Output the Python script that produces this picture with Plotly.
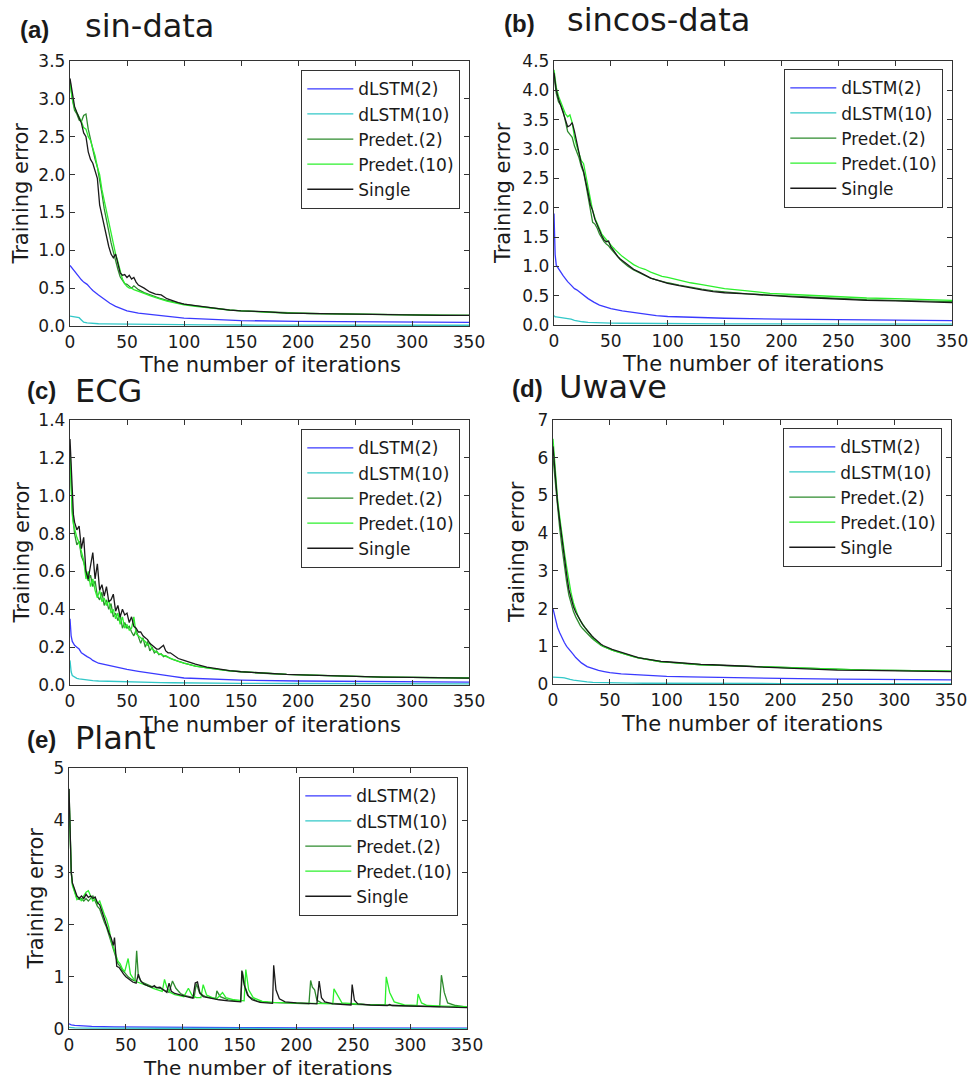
import plotly.graph_objects as go

# ---------------- shared x grids (iterations) ----------------
X_GRID = [0, 2, 4, 6, 8, 10, 12, 14, 16, 18, 20, 22, 24, 26, 28, 30, 32, 34, 36, 38, 40,
          42, 44, 46, 48, 50, 52, 54, 56, 58, 60, 65, 70, 75, 80, 85, 90, 95, 100,
          110, 120, 130, 140, 150, 170, 190, 210, 230, 250, 275, 300, 325, 350]
X_SMOOTH = [0, 1, 2, 4, 6, 8, 10, 12, 15, 18, 20, 25, 30, 35, 40, 45, 50, 60, 70, 80, 90,
            100, 120, 150, 200, 250, 300, 350]
X_ECG = [0, 1, 2, 3, 4, 6, 8, 10, 12, 14, 16, 18, 20, 22, 24, 26, 28, 30, 32, 34, 36, 38,
         40, 42, 44, 46, 48, 50, 52, 54, 56, 58, 60, 62, 64, 66, 68, 70, 72, 74, 76, 78,
         80, 82, 84, 86, 88, 90, 95, 100, 110, 120, 130, 140, 150, 170, 190, 210, 230,
         250, 275, 300, 325, 350]

# ---------------- (a) sin-data ----------------
A_DLSTM2 = [0.8, 0.78, 0.76, 0.72, 0.68, 0.64, 0.61, 0.58, 0.55, 0.5, 0.47, 0.41, 0.35,
            0.3, 0.26, 0.23, 0.2, 0.17, 0.15, 0.135, 0.12, 0.105, 0.09, 0.072, 0.06,
            0.054, 0.05, 0.047]
A_DLSTM10 = [0.13, 0.128, 0.125, 0.12, 0.12, 0.11, 0.08, 0.05, 0.04, 0.035, 0.033, 0.03,
             0.028, 0.027, 0.026, 0.025, 0.024, 0.022, 0.02, 0.019, 0.018, 0.017, 0.015,
             0.013, 0.012, 0.011, 0.01, 0.01]
A_PRED2 = [3.25, 3.0, 2.85, 2.8, 2.72, 2.7, 2.78, 2.8, 2.6, 2.45, 2.3, 2.2, 2.1, 1.95,
           1.75, 1.55, 1.4, 1.2, 1.1, 0.98, 0.85, 0.75, 0.65, 0.6, 0.56, 0.55, 0.52, 0.5,
           0.53, 0.5, 0.48, 0.44, 0.41, 0.38, 0.36, 0.34, 0.32, 0.3, 0.29, 0.265, 0.245,
           0.228, 0.212, 0.2, 0.185, 0.172, 0.165, 0.16, 0.155, 0.15, 0.145, 0.142, 0.14]
A_PRED10 = [3.2, 3.0, 2.88, 2.82, 2.78, 2.7, 2.62, 2.6, 2.5, 2.45, 2.35, 2.25, 2.1, 2.0,
            1.8, 1.65, 1.5, 1.35, 1.2, 1.08, 0.95, 0.85, 0.72, 0.62, 0.56, 0.52, 0.5, 0.5,
            0.48, 0.47, 0.46, 0.43, 0.4, 0.37, 0.35, 0.33, 0.31, 0.3, 0.28, 0.26, 0.24,
            0.225, 0.21, 0.2, 0.185, 0.17, 0.165, 0.16, 0.155, 0.15, 0.145, 0.14, 0.14]
A_SINGLE = [3.27, 3.05, 2.9, 2.82, 2.75, 2.68, 2.55, 2.5, 2.3, 2.2, 2.15, 2.05, 1.95, 1.6,
            1.45, 1.35, 1.2, 1.05, 0.95, 0.9, 0.95, 0.8, 0.7, 0.67, 0.68, 0.64, 0.67, 0.62,
            0.64, 0.58, 0.54, 0.5, 0.45, 0.42, 0.41, 0.36, 0.33, 0.31, 0.29, 0.27, 0.25,
            0.23, 0.21, 0.2, 0.19, 0.17, 0.165, 0.16, 0.155, 0.15, 0.145, 0.14, 0.14]

# ---------------- (b) sincos-data ----------------
B_DLSTM2 = [1.9, 1.2, 1.02, 0.95, 0.9, 0.84, 0.78, 0.74, 0.68, 0.62, 0.6, 0.52, 0.45,
            0.39, 0.34, 0.31, 0.28, 0.24, 0.21, 0.18, 0.16, 0.145, 0.13, 0.115, 0.1,
            0.09, 0.08, 0.075]
B_DLSTM10 = [0.16, 0.14, 0.14, 0.135, 0.13, 0.125, 0.12, 0.11, 0.1, 0.08, 0.07, 0.055,
             0.045, 0.04, 0.038, 0.035, 0.033, 0.03, 0.028, 0.027, 0.025, 0.024, 0.022,
             0.02, 0.018, 0.017, 0.016, 0.015]
B_PRED2 = [4.25, 3.95, 3.8, 3.75, 3.65, 3.5, 3.3, 3.25, 3.2, 3.05, 2.95, 2.85, 2.7, 2.6,
           2.4, 2.2, 2.0, 1.75, 1.72, 1.65, 1.55, 1.48, 1.42, 1.38, 1.35, 1.3, 1.25, 1.2,
           1.16, 1.12, 1.08, 1.0, 0.94, 0.89, 0.84, 0.8, 0.77, 0.74, 0.72, 0.68, 0.64,
           0.61, 0.58, 0.56, 0.53, 0.51, 0.49, 0.47, 0.45, 0.43, 0.42, 0.41, 0.4]
B_PRED10 = [4.35, 4.05, 3.9, 3.8, 3.7, 3.6, 3.55, 3.58, 3.45, 3.2, 3.05, 2.9, 2.8, 2.75,
            2.55, 2.3, 2.1, 1.95, 1.82, 1.72, 1.62, 1.55, 1.5, 1.45, 1.4, 1.36, 1.32,
            1.28, 1.24, 1.2, 1.17, 1.1, 1.03, 0.98, 0.95, 0.9, 0.86, 0.83, 0.81, 0.76,
            0.72, 0.69, 0.66, 0.62, 0.58, 0.54, 0.52, 0.5, 0.48, 0.46, 0.45, 0.44, 0.42]
B_SINGLE = [4.3, 4.0, 3.85, 3.75, 3.62, 3.5, 3.38, 3.4, 3.45, 3.3, 3.1, 2.95, 2.75, 2.62,
            2.45, 2.25, 2.05, 1.95, 1.8, 1.7, 1.6, 1.52, 1.45, 1.42, 1.43, 1.33, 1.28,
            1.22, 1.17, 1.13, 1.1, 1.02, 0.95, 0.9, 0.85, 0.8, 0.77, 0.74, 0.71, 0.67,
            0.63, 0.6, 0.57, 0.55, 0.53, 0.5, 0.48, 0.46, 0.44, 0.42, 0.41, 0.39, 0.38]

# ---------------- (c) ECG ----------------
C_DLSTM2 = [0.35, 0.26, 0.23, 0.21, 0.2, 0.19, 0.17, 0.16, 0.15, 0.14, 0.13, 0.115,
            0.108, 0.1, 0.095, 0.09, 0.082, 0.072, 0.062, 0.054, 0.045, 0.037, 0.031,
            0.026, 0.021, 0.018, 0.016, 0.015]
C_DLSTM10 = [0.13, 0.07, 0.05, 0.04, 0.035, 0.032, 0.03, 0.028, 0.026, 0.024, 0.023,
             0.021, 0.02, 0.019, 0.018, 0.017, 0.016, 0.015, 0.014, 0.013, 0.012, 0.011,
             0.01, 0.009, 0.008, 0.007, 0.006, 0.006]
C_PRED2 = [1.25, 1.05, 0.92, 0.86, 0.8, 0.74, 0.76, 0.68, 0.65, 0.6, 0.55, 0.58, 0.52,
           0.55, 0.47, 0.45, 0.49, 0.42, 0.45, 0.4, 0.43, 0.36, 0.38, 0.34, 0.37, 0.3,
           0.33, 0.3, 0.31, 0.28, 0.26, 0.29, 0.25, 0.22, 0.25, 0.2, 0.23, 0.18, 0.2, 0.17,
           0.18, 0.16, 0.165, 0.15, 0.155, 0.145, 0.14, 0.135, 0.125, 0.115, 0.1, 0.09,
           0.082, 0.075, 0.07, 0.062, 0.056, 0.052, 0.048, 0.045, 0.042, 0.04, 0.038,
           0.037]
C_PRED10 = [1.2, 1.0, 0.9, 0.85, 0.82, 0.78, 0.75, 0.7, 0.66, 0.56, 0.6, 0.52, 0.56, 0.5,
            0.46, 0.5, 0.44, 0.46, 0.42, 0.45, 0.38, 0.4, 0.35, 0.38, 0.32, 0.36, 0.3,
            0.32, 0.29, 0.3, 0.36, 0.27, 0.26, 0.25, 0.24, 0.23, 0.21, 0.22, 0.19, 0.18,
            0.17, 0.165, 0.16, 0.155, 0.15, 0.145, 0.14, 0.135, 0.125, 0.115, 0.1, 0.09,
            0.082, 0.075, 0.07, 0.062, 0.056, 0.052, 0.048, 0.045, 0.042, 0.04, 0.038,
            0.037]
C_SINGLE = [1.3, 1.15, 0.98, 0.9, 0.86, 0.82, 0.84, 0.72, 0.78, 0.6, 0.56, 0.62, 0.7,
            0.56, 0.64, 0.5, 0.53, 0.47, 0.52, 0.44, 0.45, 0.48, 0.39, 0.42, 0.36, 0.4,
            0.37, 0.38, 0.33, 0.36, 0.31, 0.3, 0.28, 0.28, 0.26, 0.25, 0.24, 0.22, 0.21,
            0.2, 0.19, 0.19, 0.2, 0.21, 0.18, 0.17, 0.17, 0.16, 0.14, 0.13, 0.11, 0.095,
            0.085, 0.076, 0.07, 0.062, 0.056, 0.052, 0.048, 0.045, 0.042, 0.04, 0.038,
            0.036]

# ---------------- (d) Uwave ----------------
D_DLSTM2 = [2.0, 1.85, 1.7, 1.5, 1.35, 1.2, 1.1, 1.0, 0.9, 0.78, 0.7, 0.56, 0.46, 0.4,
            0.36, 0.33, 0.3, 0.27, 0.25, 0.23, 0.21, 0.2, 0.19, 0.17, 0.15, 0.13, 0.12,
            0.11]
D_DLSTM10 = [0.18, 0.18, 0.18, 0.17, 0.17, 0.17, 0.16, 0.15, 0.12, 0.1, 0.09, 0.07,
             0.055, 0.045, 0.04, 0.035, 0.03, 0.025, 0.022, 0.02, 0.018, 0.017, 0.015,
             0.013, 0.012, 0.011, 0.01, 0.01]
D_PRED2 = [6.0, 5.3, 4.6, 4.1, 3.6, 3.1, 2.7, 2.35, 2.1, 1.92, 1.78, 1.65, 1.55, 1.47,
           1.4, 1.34, 1.28, 1.22, 1.17, 1.12, 1.07, 1.03, 1.0, 0.97, 0.95, 0.93, 0.9, 0.88,
           0.86, 0.84, 0.82, 0.77, 0.73, 0.69, 0.66, 0.63, 0.61, 0.59, 0.58, 0.55, 0.53,
           0.51, 0.5, 0.49, 0.46, 0.44, 0.42, 0.4, 0.38, 0.37, 0.36, 0.35, 0.34]
D_PRED10 = [6.5, 5.6, 4.9, 4.4, 3.9, 3.5, 3.1, 2.7, 2.4, 2.15, 1.95, 1.8, 1.68, 1.58,
            1.5, 1.42, 1.34, 1.27, 1.2, 1.14, 1.08, 1.04, 1.0, 0.97, 0.95, 0.93, 0.9,
            0.88, 0.86, 0.84, 0.82, 0.77, 0.73, 0.69, 0.66, 0.63, 0.61, 0.59, 0.58, 0.55,
            0.53, 0.51, 0.5, 0.49, 0.46, 0.44, 0.42, 0.4, 0.38, 0.37, 0.36, 0.35, 0.34]
D_SINGLE = [6.3, 5.5, 4.8, 4.3, 3.8, 3.3, 2.9, 2.5, 2.25, 2.05, 1.9, 1.78, 1.68, 1.58,
            1.5, 1.42, 1.35, 1.28, 1.22, 1.16, 1.1, 1.06, 1.02, 0.99, 0.97, 0.95, 0.92,
            0.9, 0.88, 0.85, 0.83, 0.78, 0.74, 0.7, 0.67, 0.64, 0.62, 0.6, 0.59, 0.56,
            0.54, 0.52, 0.51, 0.5, 0.47, 0.44, 0.41, 0.39, 0.37, 0.36, 0.35, 0.34, 0.33]

# ---------------- (e) Plant ----------------
E_DLSTM2_X = [0, 2, 5, 10, 20, 40, 60, 100, 150, 200, 250, 300, 350]
E_DLSTM2 = [0.1, 0.08, 0.07, 0.06, 0.05, 0.04, 0.035, 0.03, 0.025, 0.022, 0.02, 0.018, 0.017]
E_DLSTM10_X = [0, 5, 20, 50, 100, 200, 350]
E_DLSTM10 = [0.03, 0.02, 0.015, 0.012, 0.01, 0.008, 0.007]
E_PRED2_X = [0, 1, 2, 3, 5, 7, 9, 11, 13, 15, 17, 19, 21, 23, 25, 27, 29, 31, 33, 35, 37,
             39, 41, 43, 45, 47, 49, 52, 55, 58, 59.5, 61, 64, 68, 72, 76, 80, 84, 88, 91,
             94, 98, 102, 106, 110, 112, 115, 120, 125, 129, 130, 133, 140, 147, 151,
             152.5, 155, 158, 165, 175, 190, 200, 211, 212.5, 214, 216, 218, 222, 235,
             250, 270, 290, 310, 326, 327.5, 330, 333, 340, 350]
E_PRED2 = [4.6, 3.8, 3.0, 2.78, 2.62, 2.5, 2.48, 2.5, 2.45, 2.5, 2.45, 2.5, 2.55, 2.45,
           2.35, 2.3, 2.15, 2.05, 1.95, 1.8, 1.65, 1.5, 1.4, 1.25, 1.2, 1.12, 1.08, 1.0,
           0.95, 0.92, 1.5, 1.0, 0.9, 0.86, 0.82, 0.8, 0.78, 0.74, 0.7, 0.92, 0.78, 0.68,
           0.64, 0.62, 0.6, 0.87, 0.68, 0.62, 0.6, 0.58, 0.73, 0.62, 0.56, 0.54, 0.53,
           1.1, 0.8, 0.62, 0.54, 0.51, 0.5, 0.49, 0.48, 0.93, 0.8, 0.75, 0.55, 0.5, 0.48,
           0.47, 0.46, 0.45, 0.44, 0.43, 1.03, 0.7, 0.5, 0.45, 0.42]
E_PRED10_X = [0, 1, 2, 3, 5, 7, 9, 11, 13, 15, 17, 19, 21, 23, 25, 27, 29, 31, 33, 35, 37,
              39, 41, 43, 45, 47, 49, 52, 54, 57, 60, 63, 66, 70, 74, 78, 82, 84, 86, 89,
              93, 97, 101, 105, 108, 112, 116, 118, 121, 126, 130, 135, 138, 145, 150,
              154, 155.5, 158, 162, 170, 180, 200, 220, 232, 233, 236, 240, 260, 278, 279,
              282, 286, 295, 306, 307, 310, 315, 330, 350]
E_PRED10 = [4.5, 3.7, 3.0, 2.75, 2.6, 2.48, 2.52, 2.45, 2.55, 2.62, 2.65, 2.55, 2.45,
            2.5, 2.4, 2.45, 2.3, 2.2, 2.1, 1.95, 1.7, 1.55, 1.45, 1.3, 1.25, 1.15, 1.1,
            1.35, 1.05, 0.95, 0.9, 0.88, 0.85, 0.82, 0.78, 0.75, 0.72, 0.95, 0.8, 0.7,
            0.66, 0.64, 0.62, 0.78, 0.65, 0.6, 0.6, 0.85, 0.65, 0.6, 0.58, 0.7, 0.6, 0.56,
            0.55, 0.54, 1.14, 0.75, 0.6, 0.53, 0.51, 0.5, 0.49, 0.48, 0.77, 0.65, 0.5,
            0.47, 0.46, 1.0, 0.7, 0.52, 0.46, 0.45, 0.67, 0.5, 0.45, 0.44, 0.43]
E_SINGLE_X = [0, 1, 2, 3, 5, 7, 9, 11, 13, 15, 17, 19, 21, 23, 25, 27, 29, 31, 33, 35, 37,
              39, 40, 41, 42, 44, 46, 48, 50, 53, 56, 59, 61, 63, 66, 70, 73, 75, 77, 80,
              83, 86, 88, 90, 93, 96, 100, 105, 109, 111, 113, 115, 118, 122, 127, 132,
              140, 146, 151, 152, 154, 157, 161, 168, 175, 179, 180, 182, 185, 190, 200,
              210, 218, 219, 220, 222, 225, 232, 240, 248, 249, 251, 254, 265, 280, 282,
              284, 300, 320, 335, 350]
E_SINGLE = [4.6, 3.8, 3.0, 2.8, 2.65, 2.55, 2.5, 2.55, 2.5, 2.58, 2.52, 2.55, 2.5, 2.53,
            2.42, 2.38, 2.25, 2.1, 2.0, 1.85, 1.75, 1.6, 1.75, 1.5, 1.2, 1.18, 1.1, 1.05,
            1.0, 0.95, 0.9, 0.88, 1.05, 0.92, 0.86, 0.82, 0.8, 0.83, 0.79, 0.8, 0.75, 0.7,
            0.88, 0.72, 0.68, 0.66, 0.63, 0.61, 0.59, 0.88, 0.9, 0.7, 0.62, 0.6, 0.58,
            0.56, 0.54, 0.53, 0.52, 1.12, 0.85, 0.65, 0.56, 0.51, 0.5, 0.49, 1.22, 0.75,
            0.58, 0.52, 0.5, 0.49, 0.48, 0.7, 0.92, 0.6, 0.52, 0.48, 0.47, 0.46, 0.85,
            0.55, 0.48, 0.46, 0.45, 0.47, 0.45, 0.44, 0.43, 0.42, 0.41]

SERIES_NAMES = ["dLSTM(2)", "dLSTM(10)", "Predet.(2)", "Predet.(10)", "Single"]
COLORS = ["#3a3aff", "#33c8c8", "#2e8b2e", "#2cf02c", "#1a1a1a"]

PANELS = [
    dict(tag="(a)", title="sin-data",
         series=[(X_SMOOTH, A_DLSTM2), (X_SMOOTH, A_DLSTM10), (X_GRID, A_PRED2),
                 (X_GRID, A_PRED10), (X_GRID, A_SINGLE)],
         yrange=[0, 3.5], dtick=0.5, fmt=".1f"),
    dict(tag="(b)", title="sincos-data",
         series=[(X_SMOOTH, B_DLSTM2), (X_SMOOTH, B_DLSTM10), (X_GRID, B_PRED2),
                 (X_GRID, B_PRED10), (X_GRID, B_SINGLE)],
         yrange=[0, 4.5], dtick=0.5, fmt=".1f"),
    dict(tag="(c)", title="ECG",
         series=[(X_SMOOTH, C_DLSTM2), (X_SMOOTH, C_DLSTM10), (X_ECG, C_PRED2),
                 (X_ECG, C_PRED10), (X_ECG, C_SINGLE)],
         yrange=[0, 1.4], dtick=0.2, fmt=".1f"),
    dict(tag="(d)", title="Uwave",
         series=[(X_SMOOTH, D_DLSTM2), (X_SMOOTH, D_DLSTM10), (X_GRID, D_PRED2),
                 (X_GRID, D_PRED10), (X_GRID, D_SINGLE)],
         yrange=[0, 7], dtick=1, fmt="d"),
    dict(tag="(e)", title="Plant",
         series=[(E_DLSTM2_X, E_DLSTM2), (E_DLSTM10_X, E_DLSTM10), (E_PRED2_X, E_PRED2),
                 (E_PRED10_X, E_PRED10), (E_SINGLE_X, E_SINGLE)],
         yrange=[0, 5], dtick=1, fmt="d"),
]

# ---------------- layout geometry (pixels) ----------------
W, H = 979, 1082
# plot boxes: left, right, top, bottom
BOXES = [(70, 469, 61, 326), (554, 952, 61, 325), (70, 469, 420, 685),
         (553, 951, 420, 684), (69, 467, 768, 1029)]
TAG_POS = [(18, 29), (502, 23), (25, 390), (510, 388), (25, 739)]
TITLE_POS = [(83, 26), (565, 20), (73, 391), (557, 387), (73, 738)]
XTITLE_Y = [365, 364, 725, 724, 1068]
XTITLE_SIZE = [21, 21, 21, 21, 20]
YTITLE_X = [20, 503, 21, 517, 35]
LEGEND_TR = [(460, 70), (943, 69), (460, 429), (942, 428), (458, 777)]

FONT = "DejaVu Sans"
TXT = "#1a1a1a"

fig = go.Figure()
layout = dict(width=W, height=H, margin=dict(l=0, r=0, t=0, b=0),
              paper_bgcolor="white", plot_bgcolor="white", showlegend=True,
              annotations=[])

for i, p in enumerate(PANELS):
    n = "" if i == 0 else str(i + 1)
    legname = "legend" if i == 0 else "legend" + str(i + 1)
    for k, (xs, ys) in enumerate(p["series"]):
        fig.add_trace(go.Scatter(
            x=xs, y=ys, mode="lines", name=SERIES_NAMES[k],
            line=dict(color=COLORS[k], width=1.3),
            xaxis="x" + n, yaxis="y" + n, legend=legname, showlegend=True))
    l, r, t, b = BOXES[i]
    axis_common = dict(showline=True, linecolor="#333333", linewidth=1.4, mirror="ticks",
                       ticks="inside", ticklen=5, tickwidth=1, tickcolor="#333333",
                       showgrid=False, zeroline=False, automargin=False,
                       tickfont=dict(family=FONT, size=17, color=TXT), fixedrange=True)
    layout["xaxis" + n] = dict(axis_common, domain=[l / W, r / W], range=[0, 350],
                               tickvals=[0, 50, 100, 150, 200, 250, 300, 350],
                               anchor="y" + n)
    layout["yaxis" + n] = dict(axis_common, domain=[1 - b / H, 1 - t / H],
                               range=p["yrange"], dtick=p["dtick"], tick0=0,
                               tickformat=p["fmt"], anchor="x" + n)
    lx, ly = LEGEND_TR[i]
    layout[legname] = dict(x=lx / W, y=1 - ly / H, xanchor="right", yanchor="top",
                           bgcolor="white", bordercolor="#333333", borderwidth=1.3,
                           font=dict(family=FONT, size=17, color=TXT),
                           tracegroupgap=0, itemwidth=46)
    tx, ty = TAG_POS[i]
    layout["annotations"].append(dict(
        text="<b>" + p["tag"] + "</b>", x=tx / W, y=1 - ty / H, xref="paper", yref="paper",
        xanchor="left", yanchor="middle", showarrow=False,
        font=dict(family="Liberation Sans", size=24, color=TXT)))
    hx, hy = TITLE_POS[i]
    layout["annotations"].append(dict(
        text=p["title"], x=hx / W, y=1 - hy / H, xref="paper", yref="paper",
        xanchor="left", yanchor="middle", showarrow=False,
        font=dict(family=FONT, size=32, color=TXT)))
    layout["annotations"].append(dict(
        text="The number of iterations", x=(l + r) / 2 / W, y=1 - XTITLE_Y[i] / H,
        xref="paper", yref="paper", xanchor="center", yanchor="middle", showarrow=False,
        font=dict(family=FONT, size=XTITLE_SIZE[i], color=TXT)))
    layout["annotations"].append(dict(
        text="Training error", x=YTITLE_X[i] / W, y=1 - (t + b) / 2 / H,
        xref="paper", yref="paper", xanchor="center", yanchor="middle", showarrow=False,
        textangle=-90, font=dict(family=FONT, size=21, color=TXT)))

fig.update_layout(**layout)
fig.write_html("out.html")
